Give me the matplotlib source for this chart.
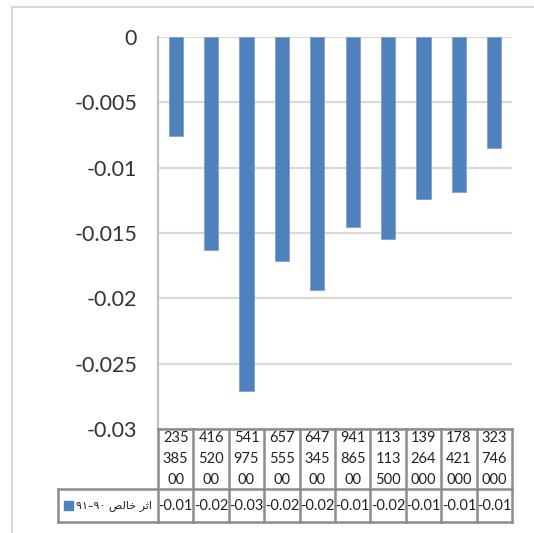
import matplotlib.pyplot as plt
from matplotlib.lines import Line2D
from matplotlib.patches import Rectangle

# Data
categories = [23538500, 41652000, 54197500, 65755500, 64734500,
              94186500, 113113500, 139264000, 178421000, 323746000]
values = [-0.00755, -0.0163, -0.0271, -0.01715, -0.0194,
          -0.01454, -0.01544, -0.01239, -0.01185, -0.0085]
yticks = [0, -0.005, -0.01, -0.015, -0.02, -0.025, -0.03]
# series name "اثر خالص ۹۰–۹۱" written in visual (left-to-right) order with joined letter forms
series_label = '\u06F9\u06F1\u2013\u06F9\u06F0 \uFEBA\uFEDF\uFE8E\uFEA7 \uFEAE\uFE9B\uFE8D'

W, H = 534, 533
fig = plt.figure(figsize=(W / 100, H / 100), dpi=100)

# plot area in pixels
left, right, top, bottom = 158, 512, 37, 429
ax = fig.add_axes([left / W, 1 - bottom / H, (right - left) / W, (bottom - top) / H])

x = list(range(len(values)))
ax.bar(x, values, width=0.4, color='#4f81bd', edgecolor='#7ea2cf', linewidth=0.6, zorder=3)
ax.set_xlim(-0.5, len(values) - 0.5)
ax.set_ylim(-0.03, 0)
ax.set_yticks(yticks)
ax.set_yticklabels([f'{t:g}' for t in yticks], fontsize=15.5, fontfamily='Lato', color='#333333')
ax.tick_params(axis='y', length=0, pad=15)
ax.set_xticks([])
ax.grid(axis='y', color='#d9d9d9', linewidth=1.6, zorder=0)
for s in ['top', 'right', 'bottom']:
    ax.spines[s].set_visible(False)
ax.spines['left'].set_color('#bfbfbf')
ax.spines['left'].set_linewidth(1.5)

# outer chart border
fig.add_artist(Line2D([12 / W, 12 / W], [0, 1 - 7 / H], color='#d9d9d9', lw=1.5))
fig.add_artist(Line2D([12 / W, 1], [1 - 7 / H, 1 - 7 / H], color='#d9d9d9', lw=1.5))

# data table below the plot
def fx(px):
    return px / W

def fy(py):
    return 1 - py / H

row1_top, row1_bot, row2_bot = 429, 489, 522
leg_left = 58
col_w = (right - left) / len(values)
line_kw = dict(color='#8c8c8c', lw=1.8)

fig.add_artist(Line2D([fx(left), fx(right)], [fy(row1_top)] * 2, **line_kw))
fig.add_artist(Line2D([fx(leg_left), fx(right)], [fy(row1_bot)] * 2, **line_kw))
fig.add_artist(Line2D([fx(leg_left), fx(right)], [fy(row2_bot)] * 2, **line_kw))
fig.add_artist(Line2D([fx(leg_left)] * 2, [fy(row1_bot), fy(row2_bot)], **line_kw))
for i in range(len(values) + 1):
    xx = left + i * col_w
    fig.add_artist(Line2D([fx(xx)] * 2, [fy(row1_top), fy(row2_bot)], **line_kw))

for i, (c, v) in enumerate(zip(categories, values)):
    s = str(c)
    label = '\n'.join(s[j:j + 3] for j in range(0, len(s), 3))
    cx = left + (i + 0.5) * col_w
    fig.text(fx(cx), fy(459), label, ha='center', va='center',
             fontsize=10.5, fontfamily='Lato', linespacing=1.65, color='#222222')
    fig.text(fx(cx), fy((row1_bot + row2_bot) / 2), f'{v:.2f}', ha='center', va='center',
             fontsize=10.5, fontfamily='Lato', color='#222222')

# legend key
fig.add_artist(Rectangle((fx(64), fy(510)), 9 / W, 9 / H, color='#4f81bd'))
fig.text(fx(76), fy((row1_bot + row2_bot) / 2), series_label, ha='left', va='center',
         fontsize=8, fontfamily='DejaVu Sans', color='#222222')

plt.savefig('out.png', dpi=100)
